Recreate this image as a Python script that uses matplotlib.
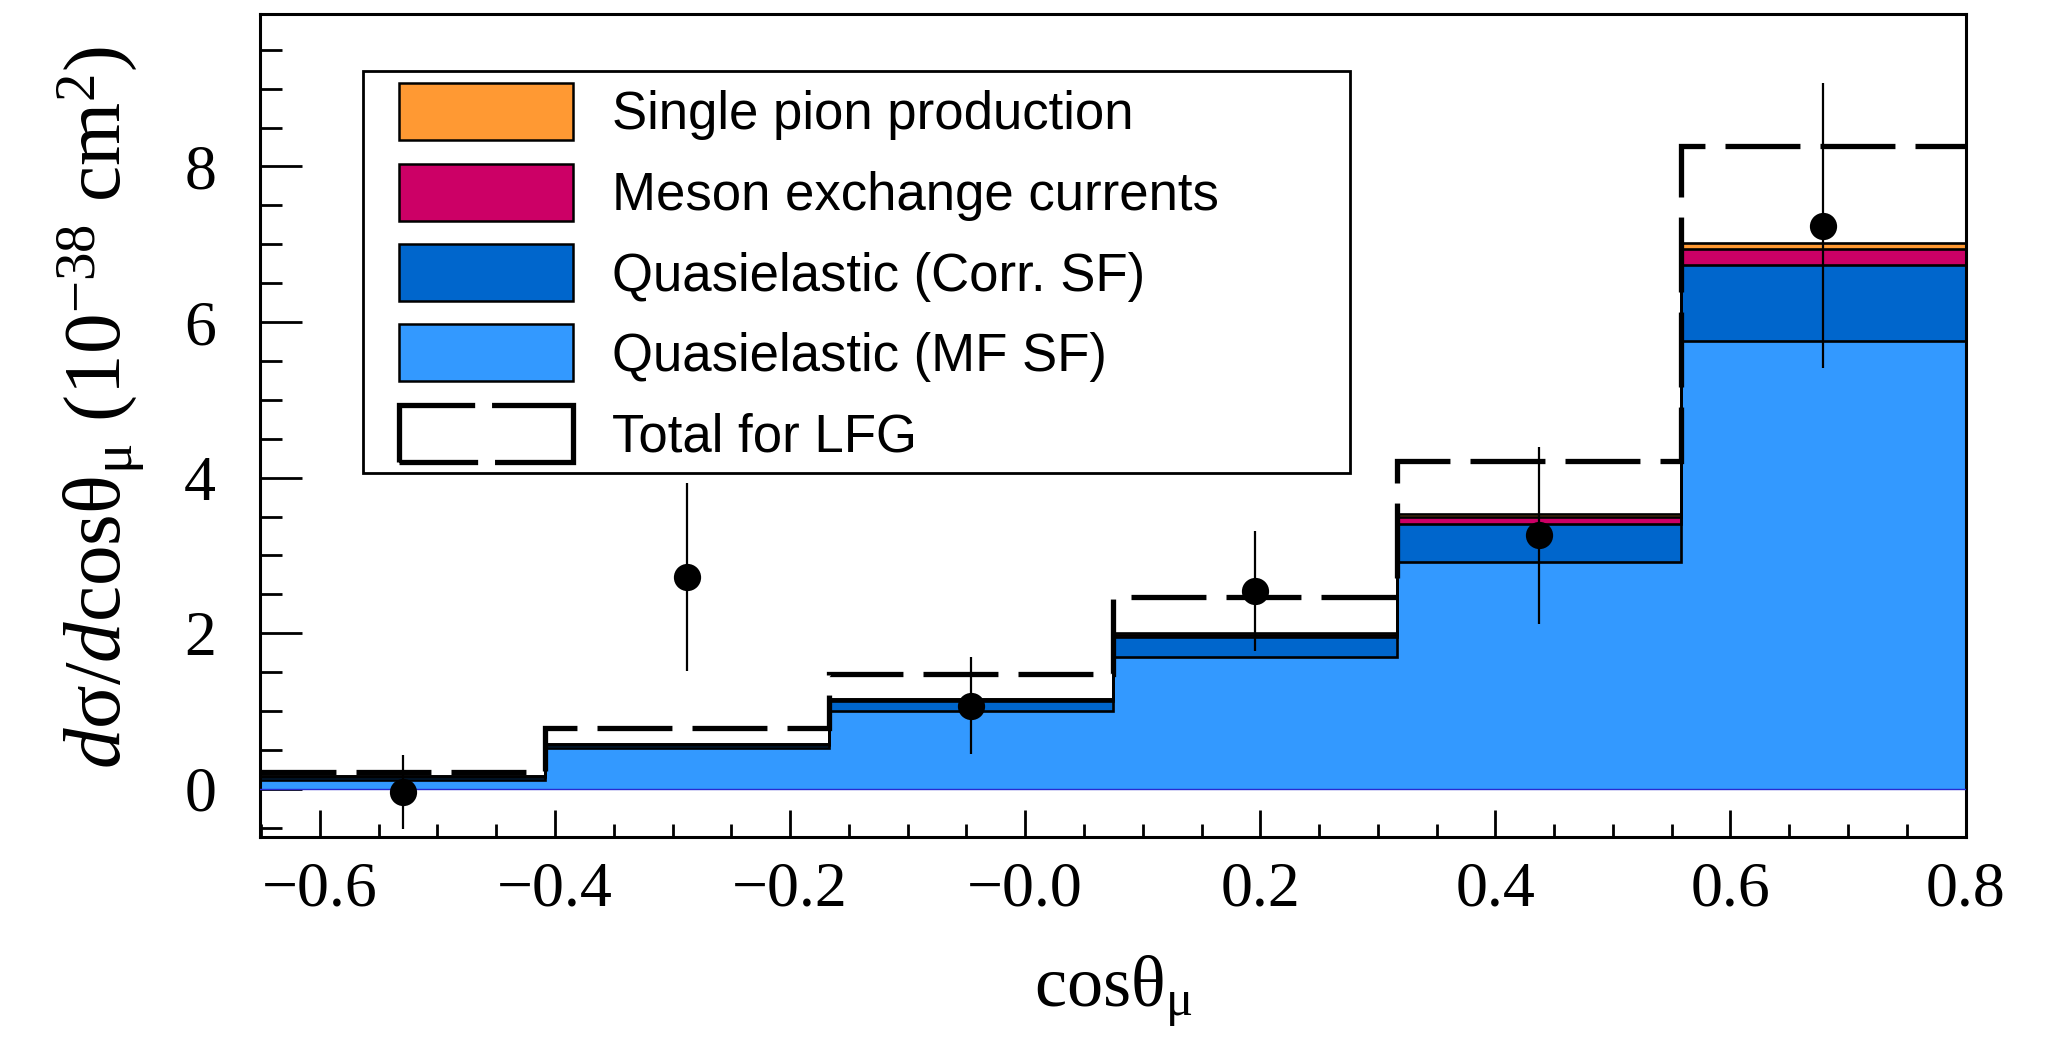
import matplotlib

matplotlib.use("Agg")

import matplotlib.pyplot as plt
import numpy as np
from matplotlib.patches import Rectangle
from matplotlib.ticker import MultipleLocator

# bin edges in cos(theta_mu)
bin_edges = [-0.65, -0.4083, -0.1667, 0.075, 0.3167, 0.5583, 0.8]

# stacked contributions (10^-38 cm^2), bottom to top
qe_mf = [0.11, 0.52, 1.00, 1.69, 2.92, 5.76]
qe_corr = [0.04, 0.04, 0.13, 0.26, 0.49, 0.97]
mec = [0.01, 0.01, 0.02, 0.03, 0.08, 0.21]
single_pion = [0.005, 0.005, 0.01, 0.02, 0.04, 0.08]

# total for local Fermi gas
total_lfg = [0.22, 0.78, 1.47, 2.46, 4.22, 8.26]

# measured points
data_y = [-0.04, 2.72, 1.07, 2.54, 3.26, 7.24]
data_err = [0.48, 1.21, 0.62, 0.77, 1.14, 1.83]

labels = [
    "Single pion production",
    "Meson exchange currents",
    "Quasielastic (Corr. SF)",
    "Quasielastic (MF SF)",
    "Total for LFG",
]
colors = ["#FF9933", "#CC0066", "#0066CC", "#3399FF"]

x_ticks = [-0.6, -0.4, -0.2, 0.0, 0.2, 0.4, 0.6, 0.8]
x_ticklabels = ["\u22120.6", "\u22120.4", "\u22120.2", "\u22120.0", "0.2", "0.4", "0.6", "0.8"]

plt.rcParams["mathtext.fontset"] = "custom"
plt.rcParams["mathtext.rm"] = "Liberation Serif"
plt.rcParams["mathtext.it"] = "Liberation Serif:italic"
plt.rcParams["mathtext.bf"] = "Liberation Serif:bold"

fig = plt.figure(figsize=(10.32, 5.2), dpi=200)
ax = fig.add_axes([0.1262, 0.1952, 0.8261, 0.7913])

edges = np.array(bin_edges)
layers = [np.array(qe_mf), np.array(qe_corr), np.array(mec), np.array(single_pion)]
cum = np.cumsum(layers, axis=0)  # MF, +Corr, +MEC, +pion
fill_colors = colors[::-1]  # MF, Corr, MEC, pion

# ROOT-style stack: draw from the top cumulative down
for level, fc in zip(cum[::-1], fill_colors[::-1]):
    ax.stairs(level, edges, baseline=0, fill=True, facecolor=fc, edgecolor="none", zorder=2)
    ax.stairs(level, edges, baseline=None, color="black", lw=0.95, zorder=3)
ax.axhline(0, color="#2a2ad0", lw=0.5, zorder=3)

ax.stairs(np.array(total_lfg), edges, baseline=None, color="black", lw=1.9,
          linestyle=(0, (14.2, 3.8)), zorder=4)

centers = 0.5 * (edges[:-1] + edges[1:])
ax.errorbar(centers, data_y, yerr=data_err, fmt="o", color="black", ms=8.8,
            elinewidth=0.8, capsize=0, zorder=6)

ax.set_xlim(-0.6506, 0.8)
ax.set_ylim(-0.62, 9.96)
ax.set_xticks(x_ticks)
ax.set_xticklabels(x_ticklabels, family="Liberation Serif")
ax.xaxis.set_minor_locator(MultipleLocator(0.05))
ax.yaxis.set_major_locator(MultipleLocator(2))
ax.yaxis.set_minor_locator(MultipleLocator(0.5))
for lab in ax.get_yticklabels():
    lab.set_family("Liberation Serif")
ax.tick_params(axis="both", which="both", direction="in", top=False, right=False, width=1.0)
ax.tick_params(axis="y", which="major", length=15, labelsize=23, pad=16)
ax.tick_params(axis="y", which="minor", length=8)
ax.tick_params(axis="x", which="major", length=9.7, labelsize=23, pad=9)
ax.tick_params(axis="x", which="minor", length=4.7)
for sp in ax.spines.values():
    sp.set_linewidth(1.1)

ax.set_xlabel("cosθ$_{\\mathrm{μ}}$", family="Liberation Serif", fontsize=26)
ax.xaxis.set_label_coords(0.5, -0.142)
ax.set_ylabel("$d$σ/$d$cosθ$_{\\mathrm{μ}}$ (10$^{\\mathrm{-38}}$ cm$^{\\mathrm{2}}$)",
              family="Liberation Serif", fontsize=29.2)
ax.yaxis.set_label_coords(-0.0666, 0.522)

# legend drawn ROOT-style
ax.add_patch(Rectangle((0.0601, 0.4427), 0.5787, 0.4883, transform=ax.transAxes,
                       facecolor="white", edgecolor="black", lw=1.0, zorder=7))
row_y = [0.8821, 0.7837, 0.6859, 0.5885, 0.4905]
box_w, box_h = 0.1021, 0.0693
for i, lab in enumerate(labels):
    y = row_y[i]
    if i < len(colors):
        ax.add_patch(Rectangle((0.0812, y - box_h / 2), box_w, box_h, transform=ax.transAxes,
                               facecolor=colors[i], edgecolor="black", lw=0.9, zorder=8))
    else:
        ax.add_patch(Rectangle((0.0812, y - box_h / 2), box_w, box_h, transform=ax.transAxes,
                               fill=False, edgecolor="black", lw=1.9,
                               linestyle=(26.2, (41.1, 3.2)), zorder=8))
    ax.text(0.2062, y - 0.0222, lab, transform=ax.transAxes, fontsize=19,
            family="Liberation Sans", va="baseline", ha="left", zorder=9)

fig.savefig("out.png", dpi=200, facecolor="white")
